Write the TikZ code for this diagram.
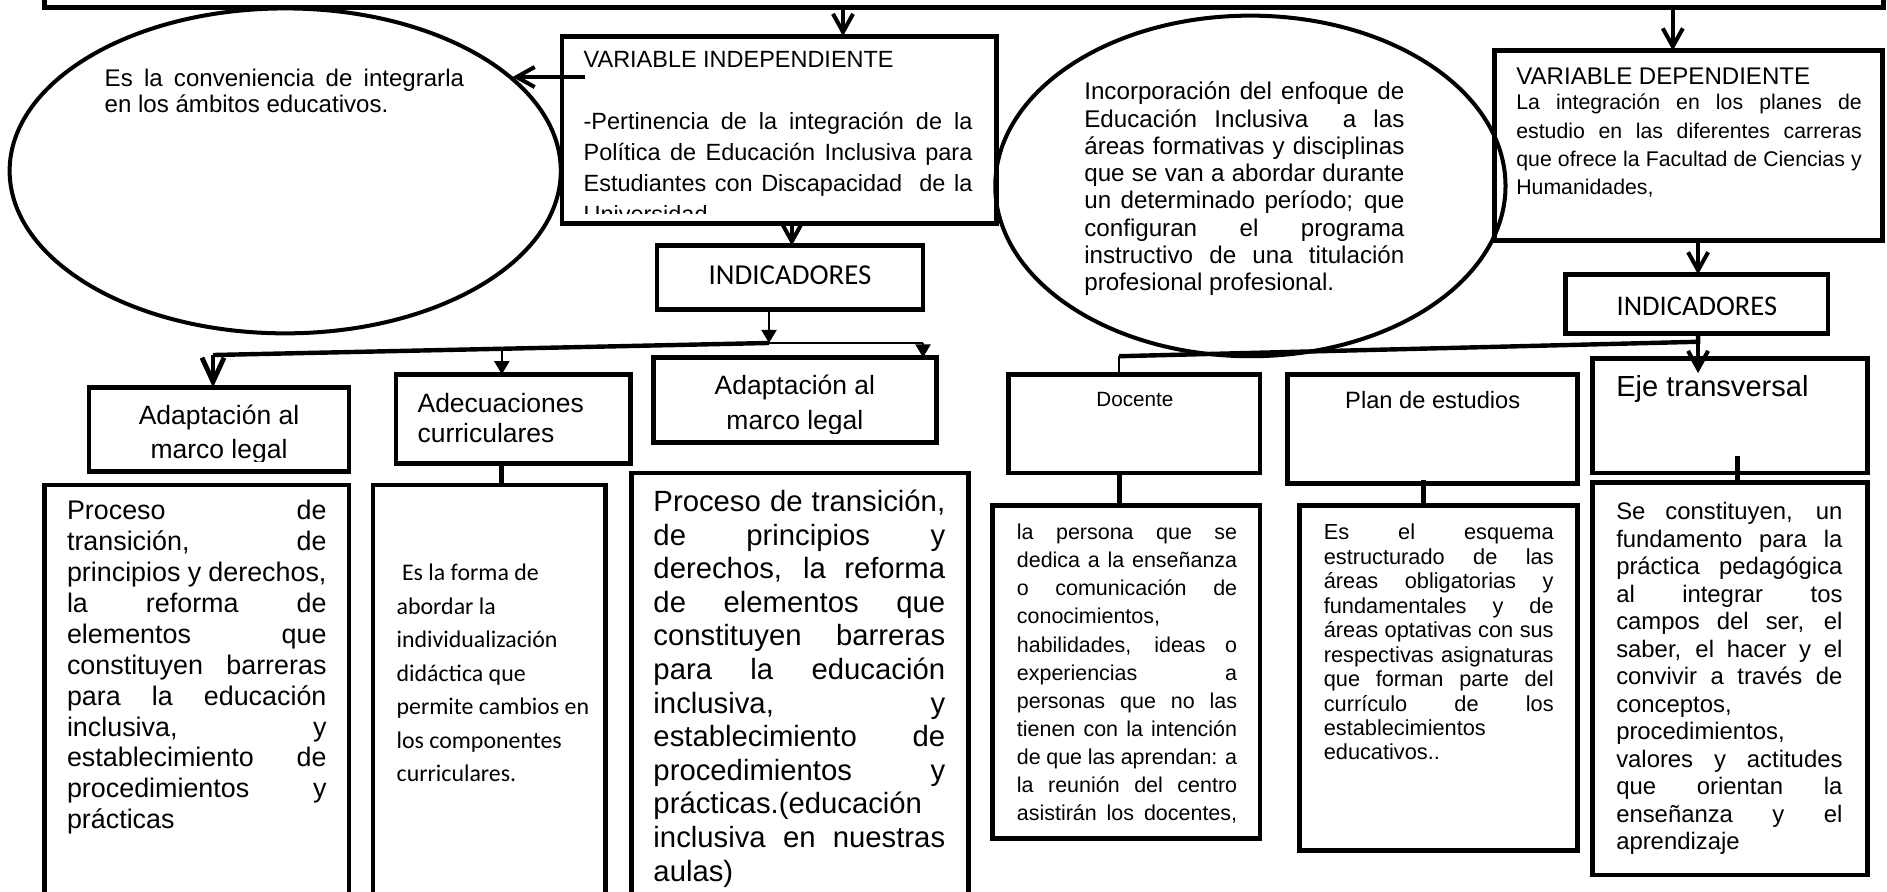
\documentclass[tikz,border=0pt]{standalone}
\usepackage{fontspec}
\setmainfont{Liberation Sans}
\newfontfamily\calibri{Carlito}
\usetikzlibrary{arrows.meta,shapes.geometric}
\newlength\U \setlength\U{0.6pt}
% text block: size, baselineskip, width (in picture units), content
\newcommand\tblock[4]{\parbox[t]{#3\U}{\fontsize{#1}{#2}\selectfont\parindent=0pt\tolerance=10000\hbadness=10000\hfuzz=3pt\hyphenpenalty=10000\exhyphenpenalty=10000 #4\par}}
\newcommand\boxnode[5]{\node[box, minimum width={((#4)-(#2))*0.6pt}, minimum height={((#5)-(#3))*0.6pt}] (#1) at ({((#2)+(#4))/2},{((#3)+(#5))/2}) {};}
\begin{document}
\begin{tikzpicture}[x=0.6pt,y=-0.6pt,
  box/.style={draw, line width=2.4pt, inner sep=0pt, outer sep=0pt},
  oval/.style={draw, ellipse, line width=2pt, inner sep=0pt, outer sep=0pt},
  txt/.style={anchor=base west, inner sep=0pt, outer sep=0pt},
  lbl/.style={anchor=base, inner sep=0pt, outer sep=0pt},
  varrow/.style={line width=2pt, -{Straight Barb[length=9pt,width=10pt]}},
  varrowbig/.style={line width=2.4pt, -{Straight Barb[length=12pt,width=11pt]}},
  tarrow/.style={line width=1pt, -{Triangle[length=6.5pt,width=7.5pt]}},
  thickline/.style={line width=2.2pt},
  thinline/.style={line width=1pt},
  stub/.style={line width=2.6pt}]
\fill[white] (0,0) rectangle (1568,741);
\useasboundingbox (0,0) rectangle (1568,741);
\clip (0,0) rectangle (1568,741);

% ---------- boxes ----------
\boxnode{topbox}{37}{-30}{1565}{6}
\boxnode{vi}{467}{30}{828}{186}
\boxnode{vd}{1242}{42}{1564}{200}
\boxnode{indl}{546}{204}{767}{257}
\boxnode{indr}{1301}{228}{1519}{277}
\boxnode{lone}{74}{322}{290}{392}
\boxnode{ltwo}{329}{311}{524}{385}
\boxnode{lthree}{543}{297}{778}{368}
\boxnode{tone}{37}{403}{290}{770}
\boxnode{ttwo}{310}{403}{503}{770}
\boxnode{tthree}{525}{393}{805}{770}
\boxnode{doc}{838}{311}{1047}{393}
\boxnode{doct}{825}{420}{1047}{697}
\boxnode{pe}{1070}{311}{1311}{402}
\boxnode{pet}{1080}{420}{1311}{707}
\boxnode{et}{1323}{298}{1552}{393}
\boxnode{ett}{1323}{401}{1552}{727}

% ---------- ellipses ----------
\node[oval, minimum width={458*0.6pt}, minimum height={270*0.6pt}] (ell) at (237,142) {};
\node[oval, minimum width={424*0.6pt}, minimum height={283*0.6pt}] (elr) at (1039,154.5) {};

% ---------- connectors ----------
\coordinate (a1) at (700.5,6);
\draw[varrow] (a1) -- (a1 |- vi.north);
\coordinate (a2) at (1390,6);
\draw[varrow] (a2) -- (a2 |- vd.north);
\coordinate (a3) at (486,64);
\draw[varrow] (a3) -- (a3 -| ell.22.6);
\coordinate (a4) at (658,0);
\draw[varrow] (vi.south -| a4) -- (indl.north -| a4);
\coordinate (j1) at (639,285);
\draw[tarrow] (indl.south -| j1) -- (j1);
\coordinate (j2) at (177,295);
\draw[thickline] (j1) -- (j2);
\draw[varrowbig] (j2) -- (j2 |- lone.north);
\coordinate (j3) at (767,285);
\draw[thinline] (j1) -- (j3);
\draw[tarrow] (j3) -- (j3 |- lthree.north);
\coordinate (j4) at (417,290);
\draw[tarrow] (j4) -- (j4 |- ltwo.north);
\draw[stub] (ltwo.south -| j4) -- (ttwo.north -| j4);

\coordinate (k1) at (1411,284);
\coordinate (k2) at (930,296);
\coordinate (k3) at (1411,310);
\draw[varrow] (vd.south -| k1) -- (indr.north -| k1);
\draw[thickline] (indr.south -| k1) -- (k1) -- (k2);
\draw[varrow] (k1) -- (k3);
\draw[thinline] (k2) -- (k2 |- doc.north);
\draw[stub] (doc.south -| k2) -- (doct.north -| k2);
\coordinate (p1) at (1183,399);
\draw[stub] (p1) -- (p1 |- pet.north);
\coordinate (e1) at (1444,379);
\draw[stub] (e1) -- (e1 |- ett.north);

% ---------- texts ----------
\begin{scope}
\clip (467,30) rectangle (828,177.3);
\node[txt] (vitx) at (485,56.5) {\tblock{11.7}{15.4}{323}{VARIABLE INDEPENDIENTE\par\mbox{}\par -Pertinencia de la integración de la\linebreak Política de Educación Inclusiva para\linebreak Estudiantes con Discapacidad\ \ de la\linebreak Universidad}};
\end{scope}

\node[txt] (eltx) at (87,71.5) {\tblock{12}{13}{298.6}{Es la conveniencia de integrarla\linebreak en los ámbitos educativos.}};

\node[txt] (ertx) at (901,83) {\tblock{12.05}{13.6}{266}{Incorporación del enfoque de\linebreak Educación Inclusiva\ \ a las\linebreak áreas formativas y disciplinas\linebreak que se van a abordar durante\linebreak un determinado período; que\linebreak configuran el programa\linebreak instructivo de una titulación\linebreak profesional profesional.}};

\node[txt] (vdh) at (1260,70.6) {\fontsize{12}{14}\selectfont VARIABLE DEPENDIENTE};
\node[txt] (vdtx) at (1260,91.4) {\tblock{10.6}{14.1}{287}{La integración en los planes de\linebreak estudio en las diferentes carreras\linebreak que ofrece la Facultad de Ciencias y\linebreak Humanidades,}};

\node[lbl] (indltx) at (656.5,236.8) {\calibri\fontsize{14.4}{16}\selectfont INDICADORES};
\node[lbl] (indrtx) at (1410,261.8) {\calibri\fontsize{14.2}{16}\selectfont INDICADORES};

\begin{scope}
\clip (74,322) rectangle (290,383.5);
\node[lbl] (lonetx) at (182,352.8) {\parbox[t]{210\U}{\centering\fontsize{13.2}{16.7}\selectfont Adaptación al\\marco legal}};
\end{scope}
\node[txt] (ltwotx) at (347,342.5) {\tblock{13.2}{15.3}{170}{Adecuaciones\par curriculares}};
\begin{scope}
\clip (543,297) rectangle (778,360.5);
\node[lbl] (lthreetx) at (660.5,328) {\parbox[t]{230\U}{\centering\fontsize{13.2}{17.4}\selectfont Adaptación al\\marco legal}};
\end{scope}

\node[txt] (tonetx) at (55.7,432) {\tblock{13.4}{15.4}{215.6}{Proceso de\linebreak transición, de\linebreak principios y derechos,\linebreak la reforma de\linebreak elementos que\linebreak constituyen barreras\linebreak para la educación\linebreak inclusiva, y\linebreak establecimiento de\linebreak procedimientos y\linebreak prácticas}};

\node[txt] (ttwotx) at (329.6,482.5) {\parbox[t]{170\U}{\calibri\fontsize{11.9}{16.7}\selectfont\parindent=0pt\raggedright \ Es la forma de\\abordar la\\individualización\\didáctica que\\permite cambios en\\los componentes\\curriculares.}};

\node[txt] (tthreetx) at (543,425) {\tblock{14.6}{16.75}{242.4}{Proceso de transición,\linebreak de principios y\linebreak derechos, la reforma\linebreak de elementos que\linebreak constituyen barreras\linebreak para la educación\linebreak inclusiva, y\linebreak establecimiento de\linebreak procedimientos y\linebreak prácticas.(educación\linebreak inclusiva en nuestras\linebreak aulas)}};

\node[lbl] (doctx) at (943,337.4) {\fontsize{10.3}{12}\selectfont Docente};
\node[lbl] (petx) at (1190.5,339.3) {\fontsize{11.8}{14}\selectfont Plan de estudios};
\node[txt] (ettl) at (1343,329.5) {\fontsize{14.5}{17}\selectfont Eje transversal};

\node[txt] (doctxt) at (845,448.5) {\tblock{10.7}{14}{183}{\parfillskip=0pt la persona que se\linebreak dedica a la enseñanza\linebreak o comunicación de\linebreak conocimientos,\linebreak habilidades, ideas o\linebreak experiencias a\linebreak personas que no las\linebreak tienen con la intención\linebreak de que las aprendan: a\linebreak la reunión del centro\linebreak asistirán los docentes,}};

\node[txt] (petxt) at (1100,448.5) {\tblock{10.85}{12.2}{191}{Es el esquema\linebreak estructurado de las\linebreak áreas obligatorias y\linebreak fundamentales y de\linebreak áreas optativas con sus\linebreak respectivas asignaturas\linebreak que forman parte del\linebreak currículo de los\linebreak establecimientos\linebreak educativos..}};

\node[txt] (etttxt) at (1343,432) {\tblock{11.9}{13.7}{188}{Se constituyen, un\linebreak fundamento para la\linebreak práctica pedagógica\linebreak al integrar tos\linebreak campos del ser, el\linebreak saber, el hacer y el\linebreak convivir a través de\linebreak conceptos,\linebreak procedimientos,\linebreak valores y actitudes\linebreak que orientan la\linebreak enseñanza y el\linebreak aprendizaje}};
\end{tikzpicture}
\end{document}
